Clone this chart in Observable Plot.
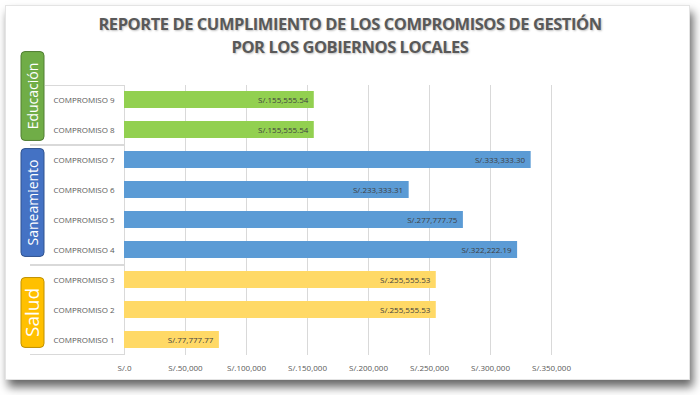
<!DOCTYPE html>
<html><head><meta charset="utf-8">
<script src="https://cdn.jsdelivr.net/npm/d3@7"></script>
<script src="https://cdn.jsdelivr.net/npm/@observablehq/plot@0.6"></script>
<style>
body{margin:0;background:#fff;}
#wrap{position:relative;width:700px;height:395px;overflow:hidden;background:#fff}
#card{position:absolute;left:5px;top:5px;width:685px;height:375px;background:#fff;box-shadow:3px 7px 9px rgba(0,0,0,0.6);border:1px solid #e4e4e4;box-sizing:border-box}
#title{position:absolute;left:0;top:12px;width:700px;text-align:center;font-family:"Open Sans",sans-serif;font-weight:bold;font-size:16.5px;letter-spacing:-0.45px;line-height:23px;color:#595959;text-shadow:1px 1px 2px rgba(0,0,0,0.25)}
#chart{position:absolute;left:0;top:0}
</style></head>
<body><div id="wrap"><div id="card"></div><div id="title">REPORTE DE CUMPLIMIENTO DE LOS COMPROMISOS DE GESTIÓN<br>POR LOS GOBIERNOS LOCALES</div><div id="chart"></div></div>
<script>
// ---- data ----
const categories = ["COMPROMISO 1","COMPROMISO 2","COMPROMISO 3","COMPROMISO 4","COMPROMISO 5","COMPROMISO 6","COMPROMISO 7","COMPROMISO 8","COMPROMISO 9"];
const values = [77777.77, 255555.53, 255555.53, 322222.19, 277777.75, 233333.31, 333333.30, 155555.54, 155555.54];
const groupOf = ["Salud","Salud","Salud","Saneamiento","Saneamiento","Saneamiento","Saneamiento","Educación","Educación"];
const groupNames = ["Educación","Saneamiento","Salud"];
const barColors = ["#92D050","#5B9BD5","#FFD966"];
const boxColors = ["#70AD47","#4472C4","#FFC000"];
const boxStrokes = ["#507E32","#2F528F","#BF9000"];
const xTicks = [0,50000,100000,150000,200000,250000,300000,350000];

const data = categories.map((c,i)=>({name:c, value:values[i], group:groupOf[i]}));
const yOrder = categories.slice().reverse();
const money = d3.format(",.2f");
const tickFmt = d3.format(",");

const plot = Plot.plot({
  width: 700, height: 395,
  marginTop: 85, marginBottom: 40, marginLeft: 124, marginRight: 149,
  style: {fontFamily: "'Open Sans', sans-serif", fontSize: "8px", color: "#595959", background: "transparent"},
  x: {domain: [0, 350000], ticks: xTicks, tickFormat: d => "S/." + tickFmt(d), tickSize: 0, tickPadding: 10, label: null},
  y: {domain: yOrder, paddingInner: 0.43, paddingOuter: 0.215, axis: null},
  color: {domain: groupNames, range: barColors},
  marks: [
    Plot.ruleX(xTicks, {stroke: "#d9d9d9", strokeWidth: 1}),
    Plot.barX(data, {x: "value", y: "name", fill: "group"}),
    Plot.text(data, {x: "value", y: "name", text: d => "S/." + money(d.value), textAnchor: "end", dx: -6, fill: "#404040", fontSize: 8}),
    Plot.text(data, {y: "name", text: "name", frameAnchor: "left", textAnchor: "start", dx: -71, fill: "#595959", fontSize: 8})
  ]
});
document.getElementById("chart").appendChild(plot);

// ---- group labels (multi-level category axis) ----
const ys = plot.scale("y");
const bw = ys.bandwidth, step = ys.step;
const yf = v => ys.apply(v);
const gap = step * 0.43 / 2;
const svg = d3.select(plot);
const layout = {"Educación": [-33, -4, 14], "Saneamiento": [4, -8, 14], "Salud": [13, -7, 19]};
const boundaries = new Set();
groupNames.forEach((g, gi) => {
  const members = data.filter(d => d.group === g).map(d => yf(d.name));
  const top = d3.min(members) - gap, bot = d3.max(members) + bw + gap;
  boundaries.add(Math.round(top)); boundaries.add(Math.round(bot));
  const [o1, o2, fs] = layout[g];
  const y1 = top + o1, y2 = bot + o2;
  svg.append("rect").attr("x", 21).attr("y", y1).attr("width", 23).attr("height", y2 - y1)
    .attr("rx", 4).attr("fill", boxColors[gi]).attr("stroke", boxStrokes[gi]).attr("stroke-width", 1);
  svg.append("text").attr("transform", `translate(${32.5 + fs*0.36},${(y1+y2)/2}) rotate(-90)`)
    .attr("text-anchor", "middle").attr("fill", "#fff").attr("font-size", fs)
    .attr("font-family", "'Open Sans', sans-serif").text(g);
});
boundaries.forEach(b => {
  svg.append("line").attr("x1", b === 85 ? 45 : 30).attr("x2", 124).attr("y1", b + 0.5).attr("y2", b + 0.5)
    .attr("stroke", "#d9d9d9");
});
</script>
</body></html>
